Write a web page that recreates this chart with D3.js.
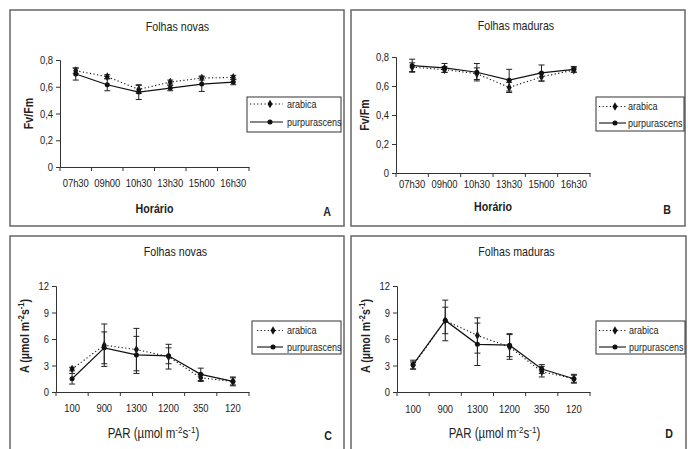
<!DOCTYPE html>
<html>
<head>
<meta charset="utf-8">
<script src="https://cdn.jsdelivr.net/npm/d3@7"></script>
<style>
  body { margin: 0; background: #fff; }
  svg { display: block; }
  text { font-family: "Liberation Sans", Arial, sans-serif; fill: #222; }
</style>
</head>
<body>
<svg id="fig" width="688" height="449"></svg>
<script>
// categories
var hours = ["07h30", "09h00", "10h30", "13h30", "15h00", "16h30"];
var parLevels = ["100", "900", "1300", "1200", "350", "120"];

// Fv/Fm, young leaves (A)
var fvNovasArabica = [0.72, 0.675, 0.58, 0.635, 0.665, 0.67];
var fvNovasArabicaErr = [0.02, 0.015, 0.03, 0.015, 0.015, 0.015];
var fvNovasPurp = [0.695, 0.615, 0.56, 0.59, 0.62, 0.635];
var fvNovasPurpErr = [0.045, 0.045, 0.055, 0.02, 0.055, 0.02];

// Fv/Fm, mature leaves (B)
var fvMadArabica = [0.73, 0.713, 0.685, 0.59, 0.663, 0.71];
var fvMadArabicaErr = [0.03, 0.02, 0.04, 0.035, 0.03, 0.015];
var fvMadPurp = [0.74, 0.725, 0.695, 0.64, 0.69, 0.715];
var fvMadPurpErr = [0.045, 0.03, 0.06, 0.075, 0.055, 0.02];

// A (photosynthesis), young leaves (C)
var aNovasArabica = [2.6, 5.3, 4.8, 4.0, 1.6, 1.2];
var aNovasArabicaErr = [0.2, 2.4, 2.4, 1.4, 0.4, 0.5];
var aNovasPurp = [1.5, 5.0, 4.2, 4.1, 2.0, 1.2];
var aNovasPurpErr = [0.6, 1.8, 2.1, 0.9, 0.7, 0.4];

// A (photosynthesis), mature leaves (D)
var aMadArabica = [3.0, 8.1, 6.4, 5.1, 2.3, 1.5];
var aMadArabicaErr = [0.4, 1.5, 2.0, 1.4, 0.6, 0.5];
var aMadPurp = [3.1, 8.1, 5.4, 5.3, 2.6, 1.5];
var aMadPurpErr = [0.5, 2.3, 2.4, 1.3, 0.5, 0.4];

var fvTicks = [0, 0.2, 0.4, 0.6, 0.8];
var aTicks = [0, 3, 6, 9, 12];

var svg = d3.select("#fig");
var commaFmt = function (v) { return v === 0 ? "0" : d3.format(".1f")(v).replace(".", ","); };
var squeeze = 0.82; // original uses a narrow typeface

// legend: box x, y, w, h, line start/end offset, marker offset, text offset, row1, row2
var panels = [
  { box: [10, 10, 334, 216], plot: [60, 249, 60, 167], title: "Folhas novas", letter: "A", letterPos: [327, 216],
    cats: hours, domain: [0, 0.8], ticks: fvTicks, fmt: commaFmt, ytitle: "fv", xtitle: "hor", pad: 12, xtOff: 46,
    ar: fvNovasArabica, arE: fvNovasArabicaErr, pu: fvNovasPurp, puE: fvNovasPurpErr,
    legend: [247, 97, 94, 35, 3, 36, 23, 40, 7, 25], titleY: 31 },
  { box: [351, 10, 334, 216], plot: [396, 590, 57, 173], title: "Folhas maduras", letter: "B", letterPos: [667, 214],
    cats: hours, domain: [0, 0.8], ticks: fvTicks, fmt: commaFmt, ytitle: "fv", xtitle: "hor", pad: 7, xtOff: 38,
    ar: fvMadArabica, arE: fvMadArabicaErr, pu: fvMadPurp, puE: fvMadPurpErr,
    legend: [596, 97, 88, 34, 3, 30, 19, 32, 9.5, 26], titleY: 30 },
  { box: [10, 236, 334, 230], plot: [56, 249, 286, 392], title: "Folhas novas", letter: "C", letterPos: [328, 440],
    cats: parLevels, domain: [0, 12], ticks: aTicks, fmt: d3.format("d"), ytitle: "a", xtitle: "par", pad: 12, xtOff: 46,
    ar: aNovasArabica, arE: aNovasArabicaErr, pu: aNovasPurp, puE: aNovasPurpErr,
    legend: [252, 321, 89, 33, 5, 31, 21, 35, 9.5, 26], titleY: 256 },
  { box: [351, 236, 335, 230], plot: [397, 590, 286, 392], title: "Folhas maduras", letter: "D", letterPos: [669, 438],
    cats: parLevels, domain: [0, 12], ticks: aTicks, fmt: d3.format("d"), ytitle: "a", xtitle: "par", pad: 13, xtOff: 46,
    ar: aMadArabica, arE: aMadArabicaErr, pu: aMadPurp, puE: aMadPurpErr,
    legend: [596, 321, 89, 33, 3, 30, 19, 33, 9.5, 26], titleY: 256 }
];

function marker(g, kind, x, y) {
  var type = kind === "ar" ? d3.symbolDiamond : d3.symbolCircle;
  g.append("path").attr("d", d3.symbol().type(type).size(kind === "ar" ? 22 : 20)())
    .attr("transform", "translate(" + x + "," + y + ")").attr("fill", "#111");
}

// unit text with superscripts (squeezed by its own transform)
function unitText(t, prefix) {
  t.classed("scaled", true);
  t.append("tspan").text(prefix + "(µmol m");
  t.append("tspan").attr("baseline-shift", "super").attr("font-size", "0.7em").text("-2");
  t.append("tspan").text("s");
  t.append("tspan").attr("baseline-shift", "super").attr("font-size", "0.7em").text("-1");
  t.append("tspan").text(")");
}

panels.forEach(function (p) {
  var g = svg.append("g");
  g.append("rect").attr("x", p.box[0]).attr("y", p.box[1]).attr("width", p.box[2]).attr("height", p.box[3])
    .attr("fill", "none").attr("stroke", "#666").attr("stroke-width", 1.5);

  var x = d3.scaleBand().domain(p.cats).range([p.plot[0], p.plot[1]]);
  var y = d3.scaleLinear().domain(p.domain).range([p.plot[3], p.plot[2]]);
  var cx = function (i) { return x(p.cats[i]) + x.bandwidth() / 2; };

  // axes
  var yAxis = d3.axisLeft(y).tickValues(p.ticks).tickFormat(p.fmt).tickSize(4).tickPadding(3);
  var ya = g.append("g").attr("transform", "translate(" + p.plot[0] + ",0)").call(yAxis);
  var xAxis = d3.axisBottom(x).tickSize(0).tickPadding(p.pad);
  var xa = g.append("g").attr("transform", "translate(0," + p.plot[3] + ")").call(xAxis);
  var bounds = p.cats.map(function (c) { return x(c); }).concat([p.plot[1]]);
  xa.selectAll("line.bt").data(bounds).enter().append("line").attr("class", "bt")
    .attr("x1", function (d) { return d; }).attr("x2", function (d) { return d; })
    .attr("y1", 0).attr("y2", 4).attr("stroke", "#333");
  [ya, xa].forEach(function (a) {
    a.select(".domain").attr("stroke", "#333");
    a.selectAll(".tick line").attr("stroke", "#333");
    a.selectAll("text").attr("font-size", 11.5).attr("fill", "#333")
      .style("font-family", '"Liberation Sans", Arial, sans-serif');
  });

  // series
  var line = d3.line().x(function (d, i) { return cx(i); }).y(function (d) { return y(d); });
  function series(vals, errs, kind) {
    var s = g.append("g");
    s.append("path").attr("d", line(vals)).attr("fill", "none").attr("stroke", "#111")
      .attr("stroke-width", kind === "ar" ? 1.1 : 1.2)
      .attr("stroke-dasharray", kind === "ar" ? "1.2,2.4" : null);
    vals.forEach(function (v, i) {
      var lo = y(v - errs[i]), hi = y(v + errs[i]), xx = cx(i);
      s.append("line").attr("x1", xx).attr("x2", xx).attr("y1", lo).attr("y2", hi).attr("stroke", "#222").attr("stroke-width", 1);
      [lo, hi].forEach(function (yy) {
        s.append("line").attr("x1", xx - 3).attr("x2", xx + 3).attr("y1", yy).attr("y2", yy).attr("stroke", "#222").attr("stroke-width", 1);
      });
      marker(s, kind, xx, y(v));
    });
  }
  series(p.ar, p.arE, "ar");
  series(p.pu, p.puE, "pu");

  // title
  var midX = (p.plot[0] + p.plot[1]) / 2;
  g.append("text").attr("x", midX + 23).attr("y", p.titleY).attr("text-anchor", "middle")
    .attr("font-size", 13).text(p.title);

  // y title
  var yMid = (p.plot[2] + p.plot[3]) / 2;
  var ytx = p.plot[0] - 27;
  var yt = g.append("text").attr("text-anchor", "middle").attr("font-weight", "bold").attr("font-size", 13);
  if (p.ytitle === "fv") {
    yt.attr("transform", "translate(" + ytx + "," + yMid + ") rotate(-90)").text("Fv/Fm");
  } else {
    yt.attr("transform", "translate(" + ytx + "," + (yMid - 3) + ") rotate(-90) scale(" + squeeze + ",1)");
    unitText(yt, "A ");
  }

  // x title
  var xt = g.append("text").attr("text-anchor", "middle").attr("font-size", 13);
  if (p.xtitle === "hor") {
    xt.attr("x", midX).attr("y", p.plot[3] + p.xtOff).attr("font-weight", "bold").text("Horário");
  } else {
    xt.attr("font-size", 14).attr("transform", "translate(" + (midX + 1) + "," + (p.plot[3] + p.xtOff) + ") scale(" + squeeze + ",1)");
    unitText(xt, "PAR ");
  }

  // panel letter
  g.append("text").attr("x", p.letterPos[0]).attr("y", p.letterPos[1]).attr("text-anchor", "middle")
    .attr("font-weight", "bold").attr("font-size", 13).text(p.letter);

  // legend
  var L = p.legend;
  var lg = g.append("g");
  lg.append("rect").attr("x", L[0]).attr("y", L[1]).attr("width", L[2]).attr("height", L[3])
    .attr("fill", "#fff").attr("stroke", "#333").attr("stroke-width", 1);
  [["ar", "arabica"], ["pu", "purpurascens"]].forEach(function (e, k) {
    var ry = L[1] + (k === 0 ? L[8] : L[9]);
    lg.append("line").attr("x1", L[0] + L[4]).attr("x2", L[0] + L[5]).attr("y1", ry).attr("y2", ry)
      .attr("stroke", "#111").attr("stroke-width", 1.1)
      .attr("stroke-dasharray", e[0] === "ar" ? "1.2,2.4" : null);
    marker(lg, e[0], L[0] + L[6], ry);
    lg.append("text").attr("x", L[0] + L[7]).attr("y", ry + 4).attr("font-size", 11).text(e[1]);
  });
});

// narrow the glyphs around each text's anchor, like the condensed face of the original
svg.selectAll("text:not(.scaled)").each(function () {
  var ax = +this.getAttribute("x") || 0;
  var prev = this.getAttribute("transform") || "";
  this.setAttribute("transform", prev + " translate(" + ax + ",0) scale(" + squeeze + ",1) translate(" + (-ax) + ",0)");
});
</script>
</body>
</html>
